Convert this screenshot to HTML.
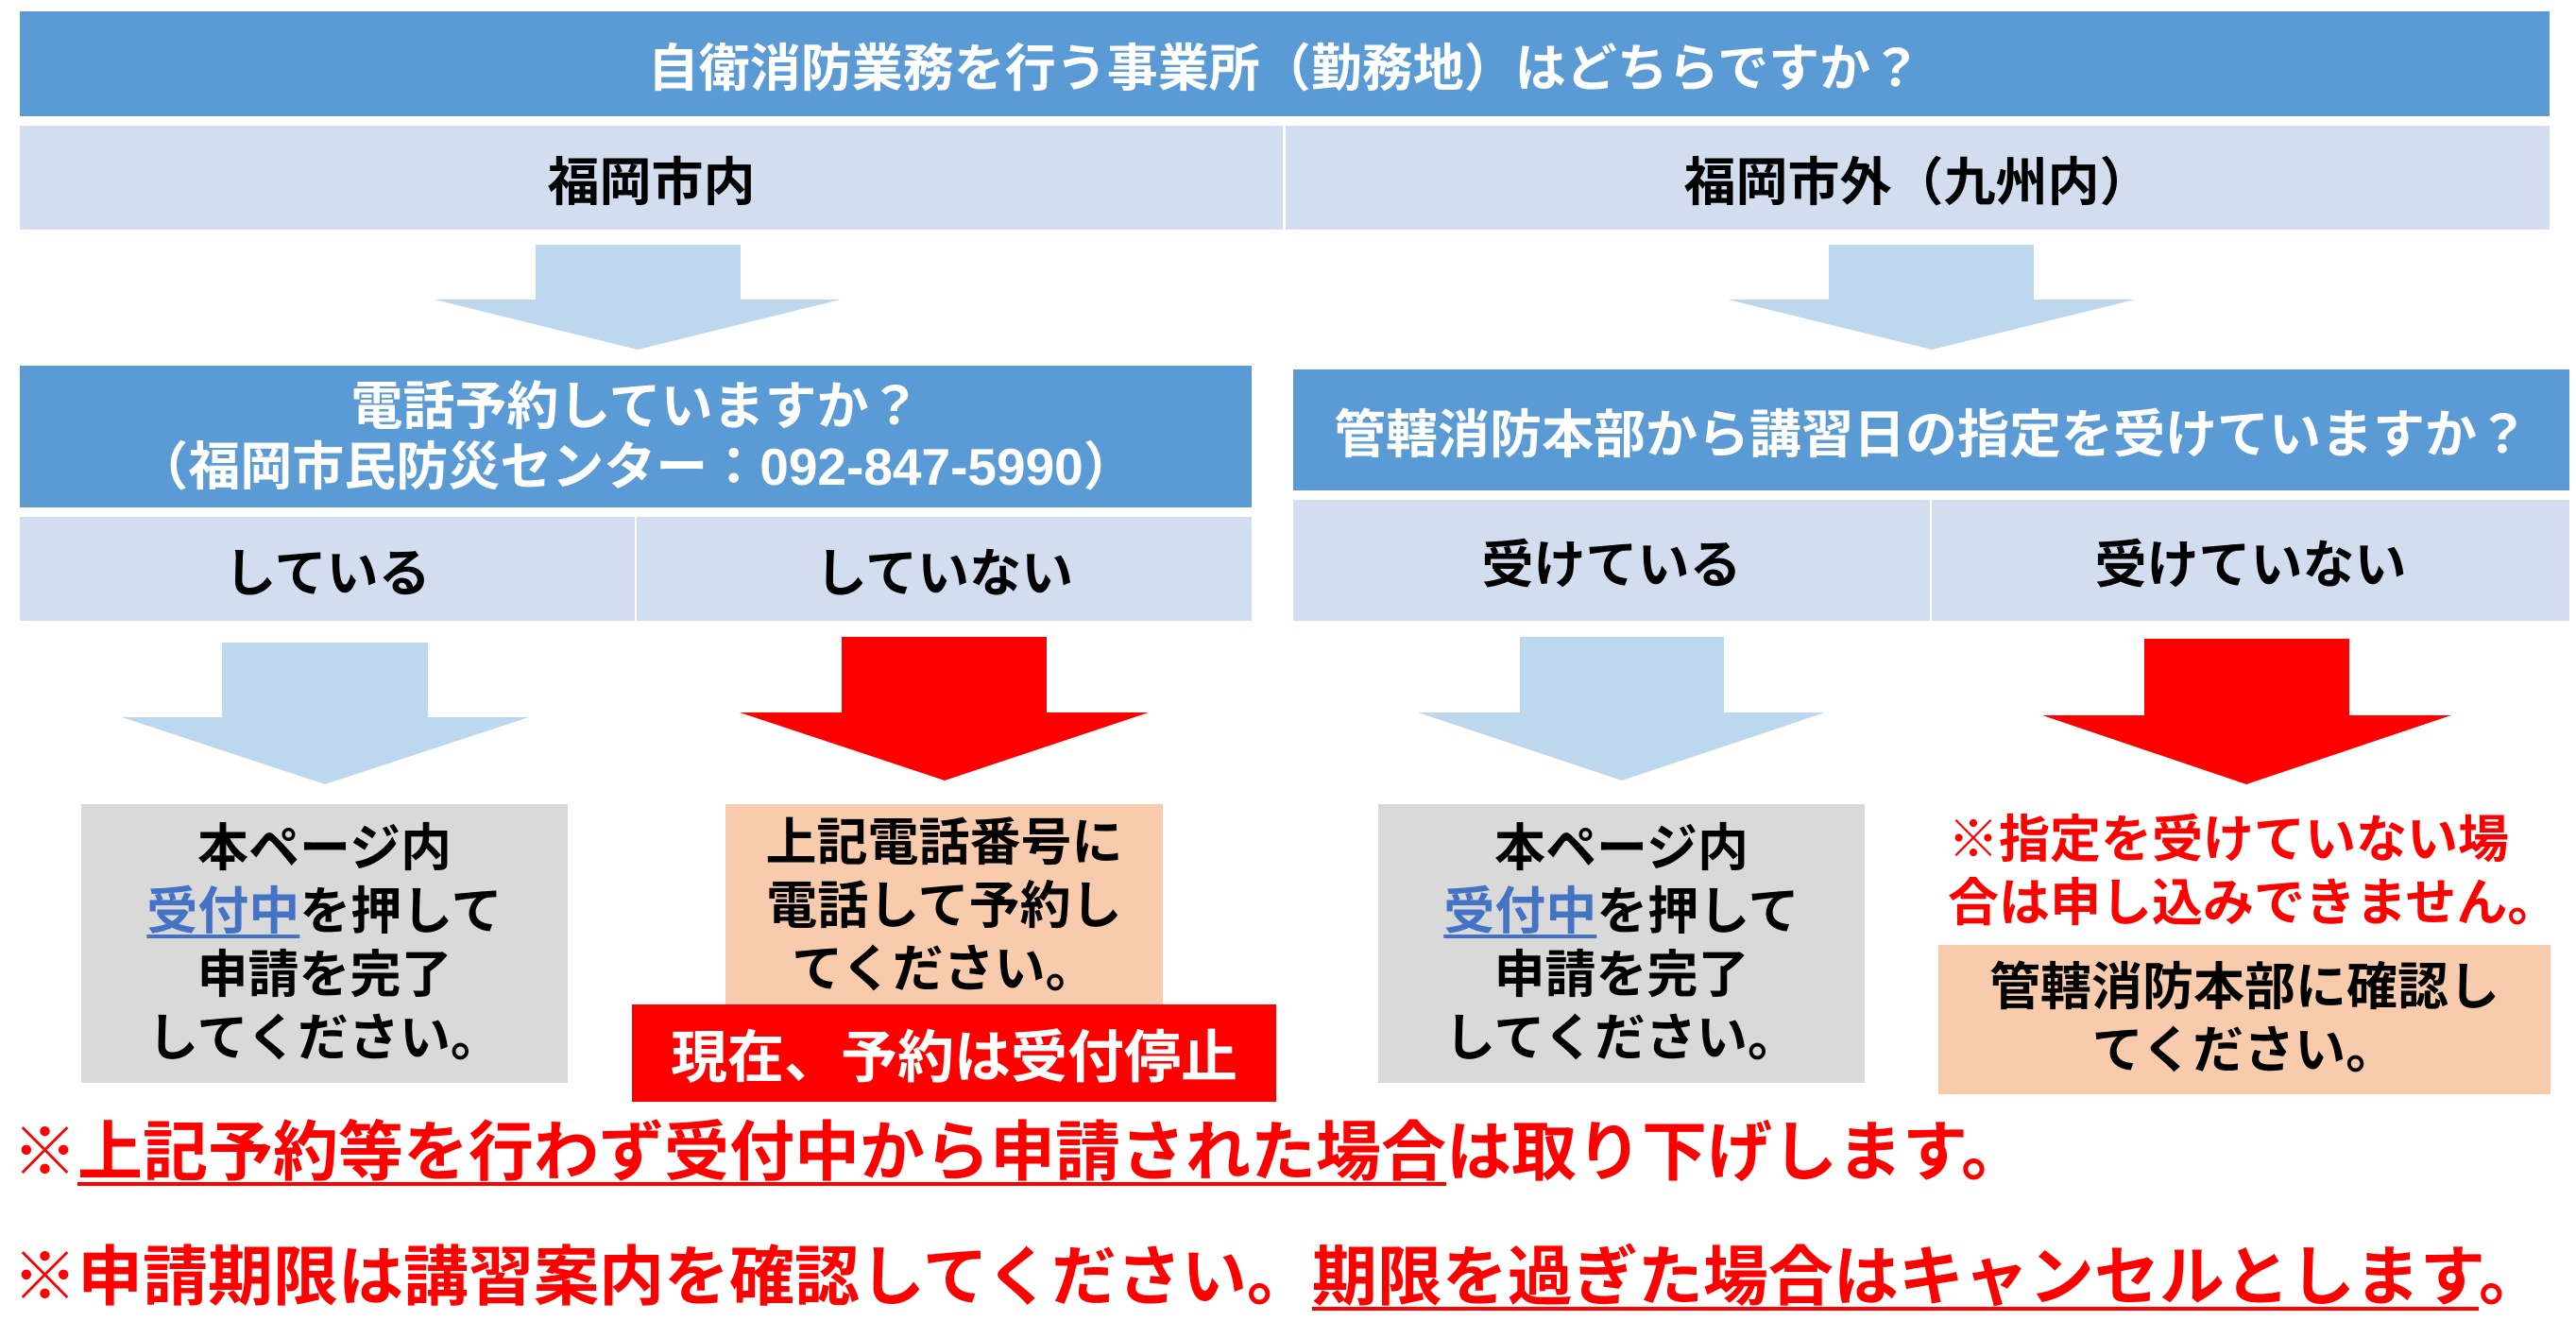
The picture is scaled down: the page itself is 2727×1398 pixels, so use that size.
<!DOCTYPE html>
<html><head><meta charset="utf-8"><style>
body{margin:0;width:2727px;height:1398px;background:#fff;position:relative;overflow:hidden;font-family:"Liberation Sans","Noto Sans CJK JP",sans-serif;font-weight:bold;}
.b{position:absolute;display:flex;align-items:center;justify-content:center;text-align:center;box-sizing:border-box;}
.dk{background:#5B9BD5;color:#fff;font-size:54px;}
.lt{background:#D2DEEF;color:#000;font-size:55px;}
.t{position:absolute;white-space:nowrap;}
.lk{color:#4472C4;text-decoration:underline;text-decoration-thickness:4px;text-underline-offset:6px;}
.u{text-decoration:underline;text-decoration-thickness:4px;text-underline-offset:8px;}
</style></head><body>
<div class="b dk" style="left:21px;top:12px;width:2678px;height:111px;"><div>自衛消防業務を行う事業所（勤務地）はどちらですか？</div></div>
<div class="b lt" style="left:21px;top:133px;width:1337px;height:110px;"><div>福岡市内</div></div>
<div class="b lt" style="left:1361px;top:133px;width:1338px;height:110px;"><div>福岡市外（九州内）</div></div>

<div class="b dk" style="left:21px;top:387px;width:1304px;height:150px;font-size:55px;line-height:64px;"><div>電話予約していますか？<br>（福岡市民防災センター：092-847-5990）</div></div>
<div class="b lt" style="left:21px;top:547px;width:651px;height:110px;"><div>している</div></div>
<div class="b lt" style="left:674px;top:547px;width:651px;height:110px;"><div>していない</div></div>

<div class="b dk" style="left:1369px;top:391px;width:1351px;height:128px;font-size:55px;"><div>管轄消防本部から講習日の指定を受けていますか？</div></div>
<div class="b lt" style="left:1369px;top:529px;width:674px;height:128px;"><div>受けている</div></div>
<div class="b lt" style="left:2045px;top:529px;width:675px;height:128px;"><div>受けていない</div></div>

<svg style="position:absolute;left:0;top:0" width="2727" height="1398">
<polygon fill="#BDD7EE" points="567,259 784,259 784,317 890,317 675,370 460,317 567,317"/>
<polygon fill="#BDD7EE" points="1936,259 2153,259 2153,317 2260,317 2045,370 1829,317 1936,317"/>
<polygon fill="#BDD7EE" points="235,680 453,680 453,759 560,759 344,830 129,759 235,759"/>
<polygon fill="#FF0000" points="891,674 1108,674 1108,754 1216,754 1000,826 783,754 891,754"/>
<polygon fill="#BDD7EE" points="1609,674 1825,674 1825,754 1932,754 1717,826 1501,754 1609,754"/>
<polygon fill="#FF0000" points="2270,676 2487,676 2487,757 2595,757 2378,830 2162,757 2270,757"/>
</svg>

<div class="b" style="left:86px;top:851px;width:515px;height:295px;background:#D9D9D9;font-size:54px;line-height:67px;"><div style="white-space:nowrap">本ページ内<br><span class="lk">受付中</span>を押して<br>申請を完了<br>してください。</div></div>
<div class="b" style="left:768px;top:851px;width:463px;height:212px;background:#F8CBAD;font-size:54px;line-height:67px;align-items:flex-start;padding-top:8px;"><div style="white-space:nowrap">上記電話番号に<br>電話して予約し<br>てください。</div></div>
<div class="b" style="left:669px;top:1063px;width:682px;height:103px;background:#FF0000;color:#fff;font-size:60px;"><div>現在、予約は受付停止</div></div>

<div class="b" style="left:1459px;top:851px;width:515px;height:295px;background:#D9D9D9;font-size:54px;line-height:67px;"><div style="white-space:nowrap">本ページ内<br><span class="lk">受付中</span>を押して<br>申請を完了<br>してください。</div></div>
<div class="t" style="left:2062px;top:856px;color:#FF0000;font-size:54px;line-height:67px;">※指定を受けていない場<br>合は申し込みできません。</div>
<div class="b" style="left:2052px;top:1000px;width:648px;height:158px;background:#F8CBAD;font-size:54px;line-height:67px;"><div style="white-space:nowrap">管轄消防本部に確認し<br>てください。</div></div>

<div class="t" style="left:13px;top:1180px;color:#FF0000;font-size:69px;line-height:80px;">※<span class="u">上記予約等を行わず受付中から申請された場合</span>は取り下げします。</div>
<div class="t" style="left:13px;top:1312px;color:#FF0000;font-size:69px;line-height:80px;">※申請期限は講習案内を確認してください。<span class="u">期限を過ぎた場合はキャンセルとします</span>。</div>
</body></html>
